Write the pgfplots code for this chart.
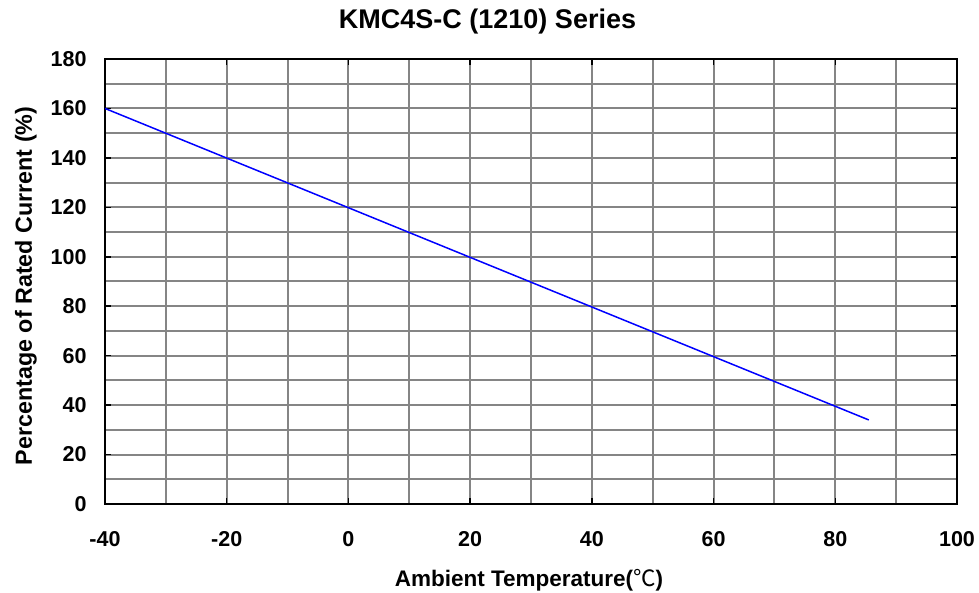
\documentclass[border=0pt]{standalone}
\usepackage{pgfplots}
\pgfplotsset{compat=1.18}
\usepackage{fontspec}
\setmainfont{Liberation Sans}
\newfontfamily\cjk{Noto Sans CJK SC}

\begin{document}
\begin{tikzpicture}
\begin{axis}[
  at={(0,0)}, anchor=south west,
  scale only axis, width=852pt, height=445pt,
  xmin=-40, xmax=100, ymin=0, ymax=180,
  xtick={-40,-20,...,100}, ytick={0,20,...,180},
  minor xtick={-30,-10,...,90}, minor ytick={10,30,...,170},
  grid=both,
  major grid style={line width=2pt, color=black!48},
  minor grid style={line width=2pt, color=black!48},
  axis line style={line width=2.6pt, black},
  tick align=inside, major tick length=6pt, minor tick length=0pt,
  tick style={black, line width=1.5pt},
  /pgf/number format/assume math mode=true,
  ticklabel style={font=\fontsize{21.5}{21.5}\selectfont\bfseries},
  xticklabel style={anchor=center, yshift=-35pt},
  yticklabel style={anchor=east, xshift=-15pt},
  title={KMC4S-C (1210) Series},
  title style={at={(axis description cs:0.449,1)}, anchor=base, yshift=24pt,
    font=\fontsize{27}{27}\selectfont\bfseries},
  xlabel={Ambient Temperature({\cjk\mdseries ℃})},
  xlabel style={at={(axis description cs:0.4977,0)}, anchor=base, yshift=-83pt,
    font=\fontsize{22.5}{22.5}\selectfont\bfseries},
  ylabel={Percentage of Rated Current (\%)},
  ylabel style={at={(axis description cs:0,0.49)}, anchor=base, yshift=73pt,
    font=\fontsize{23.3}{23.3}\selectfont\bfseries},
]
\addplot[blue, line width=1.5pt, no marks] coordinates {(-40,160) (85.5,34)};
\end{axis}
\pgfresetboundingbox
\path (-105pt,-89pt) rectangle (874pt,504pt);
\end{tikzpicture}
\end{document}
